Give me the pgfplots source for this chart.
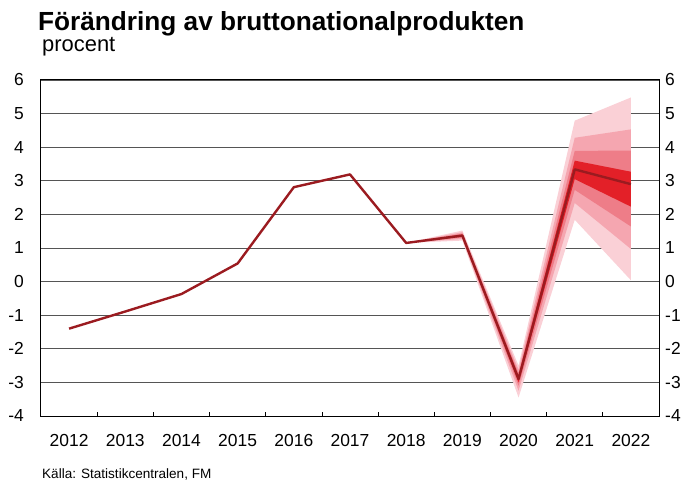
\documentclass[border=0pt]{standalone}
\usepackage{fontspec}
\setmainfont{Liberation Sans}
\usepackage{pgfplots}
\pgfplotsset{compat=1.18}

\definecolor{bnp}{HTML}{9B1B20}
\definecolor{fan1}{HTML}{FAD0D6}
\definecolor{fan2}{HTML}{F5A6B0}
\definecolor{fan3}{HTML}{EE7D88}
\definecolor{fan4}{HTML}{E32028}
\definecolor{gridc}{HTML}{555555}

\begin{document}
\begin{tikzpicture}
    \useasboundingbox (-41bp,-69bp) rectangle (644bp,416bp);
    \begin{axis}[
            at={(0,0)}, anchor=south west,
            scale only axis,
            width=618bp, height=336bp,
            xmin=-0.5, xmax=10.5,
            ymin=-4, ymax=6,
            xtick={0,...,10},
            xticklabels={2012,2013,2014,2015,2016,2017,2018,2019,2020,2021,2022},
            minor xtick={0.5,1.5,...,9.5},
            xtick pos=bottom,
            tick align=inside,
            major x tick style={draw=none},
            minor tick length=4.5bp,
            minor tick style={black, line width=0.8bp},
            ytick={-4,...,6},
            ytick style={draw=none},
            ymajorgrids=true,
            grid style={gridc, line width=0.9bp},
            axis line style={black, line width=1bp},
            /pgf/number format/assume math mode=true,
            x tick label style={font=\fontsize{17.5}{20}\selectfont, anchor=base, inner sep=0pt, yshift=-30bp},
            y tick label style={font=\fontsize{17.5}{20}\selectfont, anchor=east, inner sep=0pt, xshift=-17bp},
            clip=false
        ]
        % fan, outer to inner
        \addplot[fill=fan1, draw=none] coordinates {
                (6,1.15) (7,1.52) (8,-2.50) (9,4.79) (10,5.48)
                (10,0.04) (9,1.84) (8,-3.45) (7,1.22) (6,1.15)
            };
        \addplot[fill=fan2, draw=none] coordinates {
                (6,1.15) (7,1.47) (8,-2.62) (9,4.28) (10,4.53)
                (10,0.97) (9,2.34) (8,-3.25) (7,1.27) (6,1.15)
            };
        \addplot[fill=fan3, draw=none] coordinates {
                (6,1.15) (7,1.43) (8,-2.72) (9,3.89) (10,3.90)
                (10,1.64) (9,2.73) (8,-3.10) (7,1.31) (6,1.15)
            };
        \addplot[fill=fan4, draw=none] coordinates {
                (6,1.15) (7,1.40) (8,-2.80) (9,3.60) (10,3.27)
                (10,2.23) (9,3.05) (8,-3.00) (7,1.34) (6,1.15)
            };
        % utfall och prognos
        \addplot[bnp, line width=2.4bp, line join=round] coordinates {
                (0,-1.40) (1,-0.89) (2,-0.37) (3,0.54) (4,2.81) (5,3.19)
                (6,1.15) (7,1.37) (8,-2.90) (9,3.34) (10,2.90)
            };
    \end{axis}
    \begin{axis}[
            at={(0,0)}, anchor=south west,
            scale only axis,
            width=618bp, height=336bp,
            xmin=-0.5, xmax=10.5,
            ymin=-4, ymax=6,
            ytick={-4,...,6},
            hide x axis,
            axis y line*=right,
            y axis line style={draw=none},
            ytick style={draw=none},
            /pgf/number format/assume math mode=true,
            y tick label style={font=\fontsize{17.5}{20}\selectfont, anchor=west, inner sep=0pt, xshift=6bp}
        ]
    \end{axis}
    \node[anchor=base west, inner sep=0pt, font=\fontsize{26.3}{30}\selectfont\bfseries] at (-3bp,385bp) {Förändring av bruttonationalprodukten};
    \node[anchor=base west, inner sep=0pt, font=\fontsize{22}{25}\selectfont] at (1bp,364bp) {procent};
    \node[anchor=base west, inner sep=0pt, font=\fontsize{13.6}{16}\selectfont] at (1bp,-62bp) {Källa: Statistikcentralen, FM};
\end{tikzpicture}
\end{document}
